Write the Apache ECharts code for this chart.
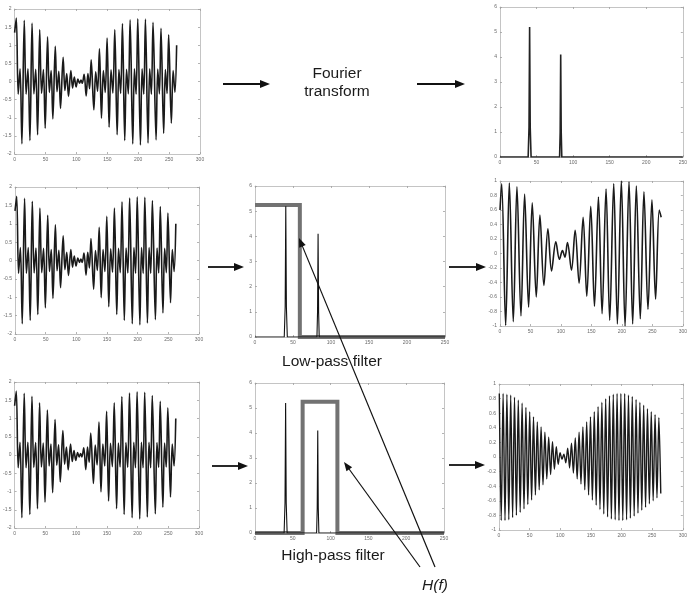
<!DOCTYPE html>
<html><head><meta charset="utf-8">
<script src="https://cdn.jsdelivr.net/npm/echarts@6/dist/echarts.min.js"></script>
<style>html,body{margin:0;padding:0;background:#fff}#c{width:690px;height:595px}</style>
</head><body><div id="c"></div>
<script>
// ---- original signal (extrema) ----
const origT = [0,2.7,5.8,8.8,11.8,15.6,18.6,21.6,24.8,28.2,31.2,34.2,37.2,40.6,43.6,46.6,49.5,53.3,56.2,59.1,61.9,65.8,68.6,71.5,74.3,78.5,81.4,84.3,87.2,91.0,93.8,96.6,99.5,102.5,105,107.5,109.5,112.5,115.8,118.6,121.3,123.9,128.2,131.2,134.2,137.3,140.5,143.6,146.6,149.7,152.9,156,159,162.1,165.9,168.8,171.6,174.5,178.2,181.1,184,186.9,191.2,193.9,196.6,199.3,203.6,206.3,209,211.7,215.9,218.6,221.3,224,228.9,231.6,234.3,236.9,241.2,244,246.7,249.3,253.6,256.5,259.4,262.2];
const origV = [1.35,1.75,-0.35,0.35,-1.72,1.69,-0.35,0.35,-1.63,1.61,-0.34,0.34,-1.47,1.43,-0.33,0.33,-1.29,1.23,-0.3,0.3,-1.03,0.97,-0.28,0.28,-0.74,0.67,-0.25,0.22,-0.41,0.3,-0.18,0.12,-0.15,0.07,-0.05,0.04,-0.05,0.2,-0.4,0.22,-0.2,0.6,-0.78,0.27,-0.27,0.9,-1.01,0.3,-0.3,1.2,-1.26,0.32,-0.32,1.43,-1.47,0.33,-0.33,1.6,-1.63,0.34,-0.34,1.7,-1.72,0.35,-0.35,1.73,-1.75,0.35,-0.35,1.72,-1.7,0.35,-0.35,1.63,-1.61,0.34,-0.34,1.47,-1.43,0.33,-0.33,1.29,-1.15,0.3,-0.3,1.0];

// ---- low-pass output ----
const lowT = [0,2.7,9.3,15.3,21.8,27.8,34.4,40.4,46.9,52.9,59.5,65.5,72,78.6,84.6,91.6,97.5,102.5,106.5,110.7,117.3,123.3,129.8,136.4,142.4,148.9,155,161.5,167.5,174,180,186.6,192.6,199.1,205.2,211.7,217.7,223.7,230.2,236.2,242.8,249.3,255.3,261.3,264.5];
const lowV = [0.6,0.96,-0.99,0.97,-0.94,0.92,-0.86,0.82,-0.74,0.70,-0.60,0.53,-0.44,0.34,-0.24,0.16,-0.08,0.04,-0.05,0.15,-0.23,0.32,-0.41,0.5,-0.59,0.65,-0.73,0.78,-0.83,0.89,-0.92,0.96,-0.97,1.0,-1.0,0.99,-0.97,0.93,-0.9,0.85,-0.77,0.74,-0.63,0.6,0.5];

// ---- high-pass output ----
const highT = [0.5,3.6,6.7,9.8,12.9,16.0,19.1,22.2,25.3,28.4,31.5,34.6,37.7,40.8,43.9,47.0,50.1,53.2,56.3,59.4,62.5,65.6,68.7,71.8,74.9,78.0,81.1,84.2,87.3,90.4,93.5,96.6,99.7,102.8,105.9,109.0,112.1,115.2,118.3,121.4,124.5,127.6,130.7,133.8,136.9,140.0,143.1,146.2,149.3,152.4,155.5,158.6,161.7,164.8,167.9,171.0,174.1,177.2,180.3,183.4,186.5,189.6,192.7,195.8,198.9,202.0,205.1,208.2,211.3,214.4,217.5,220.6,223.7,226.8,229.9,233.0,236.1,239.2,242.3,245.4,248.5,251.6,254.7,257.8,260.9,264.0];
const highV = [0.87,-0.87,0.87,-0.87,0.86,-0.86,0.85,-0.83,0.82,-0.80,0.78,-0.76,0.74,-0.71,0.68,-0.65,0.62,-0.59,0.55,-0.52,0.48,-0.45,0.41,-0.38,0.34,-0.30,0.27,-0.24,0.21,-0.17,0.14,-0.10,0.06,-0.03,0.04,-0.08,0.12,-0.15,0.19,-0.22,0.26,-0.30,0.34,-0.37,0.41,-0.45,0.48,-0.52,0.55,-0.59,0.62,-0.66,0.69,-0.72,0.75,-0.78,0.80,-0.82,0.84,-0.85,0.86,-0.86,0.87,-0.87,0.87,-0.87,0.87,-0.86,0.85,-0.84,0.83,-0.81,0.79,-0.77,0.75,-0.73,0.71,-0.69,0.66,-0.64,0.62,-0.60,0.58,-0.56,0.54,-0.50];

// ---- spectrum ----
const specF = [0,38.5,39.7,40.5,41.3,42.5,81.5,82.3,83,83.7,84.5,250];
const specA = [0,0,1.2,5.2,1.2,0,0,1.0,4.1,1.0,0,0];

// ---- filters H(f) ----
const lowPassF = [0,59,59,250];
const lowPassH = [5.25,5.25,0,0];
const bandF = [0,63,63,109,109,250];
const bandH = [0,0,5.25,5.25,0,0];

// ---- texts ----
const titleTop = ['Fourier','transform'];
const labelLow = 'Low-pass filter';
const labelHigh = 'High-pass filter';
const labelH = 'H(f)';

const zip = (a,b)=>a.slice(0,Math.min(a.length,b.length)).map((v,k)=>[v,b[k]]);

const panels = [
  {left:13, top:9,  width:187, height:145, x:[0,300,50], y:[-2,2,0.5]},  // TL
  {left:500,top:7,  width:189, height:150, x:[0,250,50], y:[0,6,1]},     // TR
  {left:15, top:187,width:184, height:147, x:[0,300,50], y:[-2,2,0.5]},  // ML
  {left:255,top:186,width:190, height:151, x:[0,250,50], y:[0,6,1]},     // MM
  {left:500,top:181,width:183, height:145, x:[0,300,50], y:[-1,1,0.2]},  // MR
  {left:13, top:382,width:186, height:146, x:[0,300,50], y:[-2,2,0.5]},  // BL
  {left:255,top:383,width:189, height:150, x:[0,250,50], y:[0,6,1]},     // BM
  {left:499,top:384,width:184, height:146, x:[0,300,50], y:[-1,1,0.2]}   // BR
];

const grids=[], xAxes=[], yAxes=[];
const axLine={show:true, onZero:false, lineStyle:{color:'#c4c4c4', width:1}};
const tick={show:true, inside:true, length:2, lineStyle:{color:'#a0a0a0', width:0.8}};
const lbl={show:true, fontSize:5, color:'#6a6a6a', margin:3, fontFamily:'Liberation Sans'};
panels.forEach((p,i)=>{
  grids.push({left:p.left, top:p.top, width:p.width, height:p.height});
  xAxes.push({gridIndex:i, type:'value', position:'bottom', min:p.x[0], max:p.x[1], interval:p.x[2],
    axisLine:axLine, axisTick:tick, axisLabel:lbl, splitLine:{show:false}});
  xAxes.push({gridIndex:i, type:'value', position:'top', min:p.x[0], max:p.x[1], interval:p.x[2],
    axisLine:axLine, axisTick:tick, axisLabel:{show:false}, splitLine:{show:false}});
  yAxes.push({gridIndex:i, type:'value', position:'left', min:p.y[0], max:p.y[1], interval:p.y[2],
    axisLine:axLine, axisTick:tick, axisLabel:lbl, splitLine:{show:false}});
  yAxes.push({gridIndex:i, type:'value', position:'right', min:p.y[0], max:p.y[1], interval:p.y[2],
    axisLine:axLine, axisTick:tick, axisLabel:{show:false}, splitLine:{show:false}});
});

function line(i, data, color, width, smooth, z){
  return {type:'line', xAxisIndex:2*i, yAxisIndex:2*i, data, symbol:'none', smooth:smooth,
    lineStyle:{color, width, join:'miter', cap:'butt'}, z:z||2, animation:false, silent:true};
}
const sigColor='#1a1a1a';
const series=[
  line(0, zip(origT,origV), sigColor, 1.6, 0.35),
  line(1, zip(specF,specA), '#222', 1.6, false),
  line(2, zip(origT,origV), sigColor, 1.6, 0.35),
  line(3, zip(specF,specA), '#111', 1.1, false, 3),
  line(3, zip(lowPassF,lowPassH), '#727272', 4, false, 2),
  line(4, zip(lowT,lowV), sigColor, 1.6, 0.35),
  line(5, zip(origT,origV), sigColor, 1.6, 0.35),
  line(6, zip(specF,specA), '#111', 1.1, false, 3),
  line(6, zip(bandF,bandH), '#727272', 4, false, 2),
  line(7, zip(highT,highV), sigColor, 1.4, 0.3)
];

// ---- annotations ----
const g=[];
function arrow(x1,y1,x2,y2,w,hl,hw){
  const dx=x2-x1, dy=y2-y1, L=Math.hypot(dx,dy), ux=dx/L, uy=dy/L;
  const bx=x2-ux*hl, by=y2-uy*hl;
  g.push({type:'line', shape:{x1,y1,x2:bx+ux*1,y2:by+uy*1}, style:{stroke:'#111', lineWidth:w}, z:10});
  g.push({type:'polygon', shape:{points:[[x2,y2],[bx-uy*hw,by+ux*hw],[bx+uy*hw,by-ux*hw]]}, style:{fill:'#111'}, z:10});
}
arrow(223,84,270,84,1.8,10,4);
arrow(417,84,465,84,1.8,10,4);
arrow(208,267,244,267,1.8,10,4);
arrow(449,267,486,267,1.8,10,4);
arrow(212,466,248,466,1.8,10,4);
arrow(449,465,485,465,1.8,10,4);
arrow(435,567,299,238,1.2,9,3.5);
arrow(420,567,344,462,1.2,9,3.5);

function text(t,x,y,italic){
  g.push({type:'text', x, y, z:11, style:{text:t, fill:'#1a1a1a', fontSize:15.5, fontFamily:'Liberation Sans',
    fontStyle: italic?'italic':'normal', align:'center', verticalAlign:'middle', textAlign:'center', textVerticalAlign:'middle'}});
}
text(titleTop[0],337,74);
text(titleTop[1],337,92);
text(labelLow,332,362);
text(labelHigh,333,556);
text(labelH,435,586,true);

const chart=echarts.init(document.getElementById('c'),null,{renderer:'canvas'});
chart.setOption({animation:false, backgroundColor:'#fff', grid:grids, xAxis:xAxes, yAxis:yAxes, series, graphic:g});
</script></body></html>
